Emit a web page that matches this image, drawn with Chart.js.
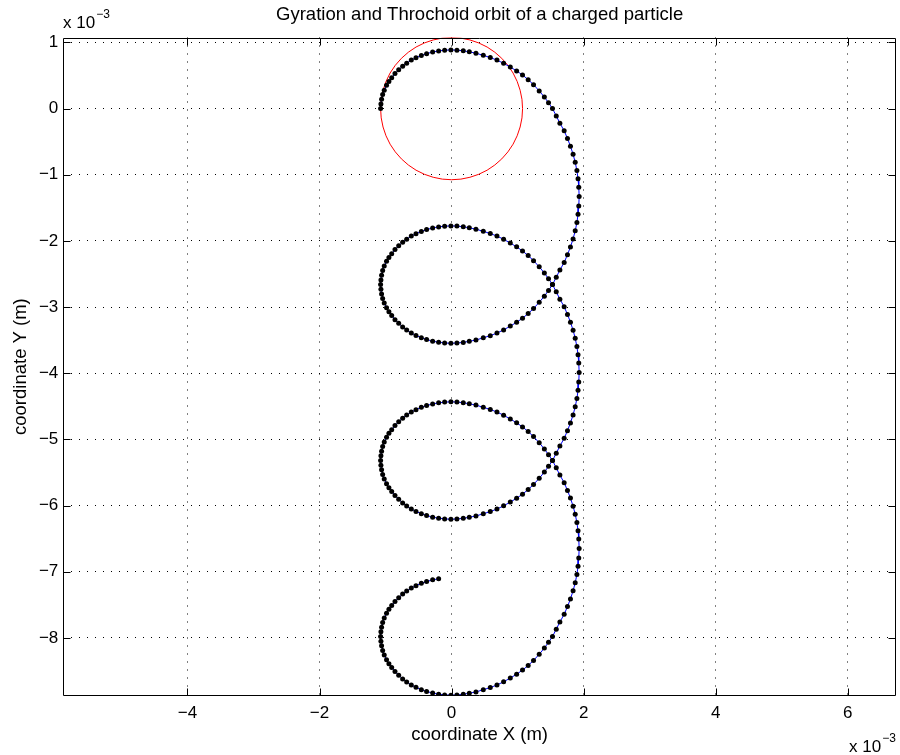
<!DOCTYPE html>
<html>
<head>
<meta charset="utf-8">
<script src="https://cdn.jsdelivr.net/npm/chart.js@4.4.1/dist/chart.umd.min.js"></script>
<style>
  html, body { margin: 0; padding: 0; background: #fff; }
  canvas { display: block; }
</style>
</head>
<body>
<canvas id="orbit" width="900" height="755"></canvas>
<script>
// orbit, units of 1e-3 m, split per turn
const turn1X = [-1.075, -1.070, -1.060, -1.044, -1.020, -0.985, -0.949, -0.907, -0.857, -0.801, -0.741, -0.680, -0.610, -0.539, -0.458, -0.378, -0.287, -0.196, -0.105, -0.010, 0.081, 0.177, 0.268, 0.369, 0.480, 0.586, 0.687, 0.788, 0.889, 0.985, 1.074, 1.160, 1.241, 1.327, 1.405, 1.468, 1.528, 1.585, 1.640, 1.705, 1.755, 1.800, 1.840, 1.872, 1.898, 1.915, 1.926, 1.932,
  1.926, 1.915, 1.898, 1.872, 1.840, 1.800, 1.755, 1.705, 1.640, 1.585, 1.528, 1.468, 1.405, 1.327, 1.241, 1.160, 1.074, 0.985, 0.889, 0.788, 0.687, 0.586, 0.480, 0.369, 0.268, 0.177, 0.081, -0.010, -0.105, -0.196, -0.287, -0.378, -0.458, -0.539, -0.610, -0.680, -0.741, -0.801, -0.857, -0.907, -0.949, -0.985, -1.020, -1.044, -1.060, -1.070, -1.075];
const turn1Y = [0.000, 0.071, 0.141, 0.212, 0.279, 0.352, 0.411, 0.467, 0.530, 0.586, 0.641, 0.687, 0.733, 0.769, 0.804, 0.831, 0.856, 0.872, 0.883, 0.887, 0.884, 0.874, 0.858, 0.838, 0.805, 0.772, 0.733, 0.685, 0.628, 0.570, 0.508, 0.438, 0.362, 0.268, 0.175, 0.088, 0.000, -0.110, -0.220, -0.335, -0.452, -0.568, -0.690, -0.812, -0.937, -1.062, -1.187, -1.330,
  -1.473, -1.598, -1.723, -1.848, -1.970, -2.092, -2.208, -2.325, -2.440, -2.550, -2.660, -2.748, -2.835, -2.928, -3.022, -3.098, -3.168, -3.230, -3.288, -3.345, -3.393, -3.432, -3.465, -3.498, -3.518, -3.534, -3.544, -3.547, -3.543, -3.532, -3.516, -3.491, -3.464, -3.429, -3.393, -3.347, -3.301, -3.246, -3.190, -3.127, -3.071, -3.012, -2.939, -2.872, -2.801, -2.731, -2.660];

const turn2X = [-1.070, -1.060, -1.044, -1.020, -0.985, -0.949, -0.907, -0.857, -0.801, -0.741, -0.680, -0.610, -0.539, -0.458, -0.378, -0.287, -0.196, -0.105, -0.010, 0.081, 0.177, 0.268, 0.369, 0.480, 0.586, 0.687, 0.788, 0.889, 0.985, 1.074, 1.160, 1.241, 1.327, 1.405, 1.468, 1.528, 1.585, 1.640, 1.705, 1.755, 1.800, 1.840, 1.872, 1.898, 1.915, 1.926, 1.932,
  1.926, 1.915, 1.898, 1.872, 1.840, 1.800, 1.755, 1.705, 1.640, 1.585, 1.528, 1.468, 1.405, 1.327, 1.241, 1.160, 1.074, 0.985, 0.889, 0.788, 0.687, 0.586, 0.480, 0.369, 0.268, 0.177, 0.081, -0.010, -0.105, -0.196, -0.287, -0.378, -0.458, -0.539, -0.610, -0.680, -0.741, -0.801, -0.857, -0.907, -0.949, -0.985, -1.020, -1.044, -1.060, -1.070, -1.075];
const turn2Y = [-2.589, -2.519, -2.448, -2.381, -2.308, -2.249, -2.193, -2.130, -2.074, -2.019, -1.973, -1.927, -1.891, -1.856, -1.829, -1.804, -1.788, -1.777, -1.773, -1.776, -1.786, -1.802, -1.822, -1.855, -1.888, -1.927, -1.975, -2.032, -2.090, -2.152, -2.222, -2.298, -2.392, -2.485, -2.572, -2.660, -2.770, -2.880, -2.995, -3.112, -3.228, -3.350, -3.472, -3.597, -3.722, -3.847, -3.990,
  -4.133, -4.258, -4.383, -4.508, -4.630, -4.752, -4.868, -4.985, -5.100, -5.210, -5.320, -5.408, -5.495, -5.588, -5.682, -5.758, -5.828, -5.890, -5.948, -6.005, -6.053, -6.092, -6.125, -6.158, -6.178, -6.194, -6.204, -6.207, -6.203, -6.192, -6.176, -6.151, -6.124, -6.089, -6.053, -6.007, -5.961, -5.906, -5.850, -5.787, -5.731, -5.672, -5.599, -5.532, -5.461, -5.391, -5.320];

const turn3X = [-1.070, -1.060, -1.044, -1.020, -0.985, -0.949, -0.907, -0.857, -0.801, -0.741, -0.680, -0.610, -0.539, -0.458, -0.378, -0.287, -0.196, -0.105, -0.010, 0.081, 0.177, 0.268, 0.369, 0.480, 0.586, 0.687, 0.788, 0.889, 0.985, 1.074, 1.160, 1.241, 1.327, 1.405, 1.468, 1.528, 1.585, 1.640, 1.705, 1.755, 1.800, 1.840, 1.872, 1.898, 1.915, 1.926, 1.932,
  1.926, 1.915, 1.898, 1.872, 1.840, 1.800, 1.755, 1.705, 1.640, 1.585, 1.528, 1.468, 1.405, 1.327, 1.241, 1.160, 1.074, 0.985, 0.889, 0.788, 0.687, 0.586, 0.480, 0.369, 0.268, 0.177, 0.081, -0.010, -0.105, -0.196, -0.287, -0.378, -0.458, -0.539, -0.610, -0.680, -0.741, -0.801, -0.857, -0.907, -0.949, -0.985, -1.020, -1.044, -1.060, -1.070, -1.075];
const turn3Y = [-5.249, -5.179, -5.108, -5.041, -4.968, -4.909, -4.853, -4.790, -4.734, -4.679, -4.633, -4.587, -4.551, -4.516, -4.489, -4.464, -4.448, -4.437, -4.433, -4.436, -4.446, -4.462, -4.482, -4.515, -4.548, -4.587, -4.635, -4.692, -4.750, -4.812, -4.882, -4.958, -5.052, -5.145, -5.232, -5.320, -5.430, -5.540, -5.655, -5.772, -5.888, -6.010, -6.132, -6.257, -6.382, -6.507, -6.650,
  -6.793, -6.918, -7.043, -7.168, -7.290, -7.412, -7.528, -7.645, -7.760, -7.870, -7.980, -8.068, -8.155, -8.248, -8.342, -8.418, -8.488, -8.550, -8.608, -8.665, -8.713, -8.752, -8.785, -8.818, -8.838, -8.854, -8.864, -8.867, -8.863, -8.852, -8.836, -8.811, -8.784, -8.749, -8.713, -8.667, -8.621, -8.566, -8.510, -8.447, -8.391, -8.332, -8.259, -8.192, -8.121, -8.051, -7.980];

const tailX = [-1.070, -1.060, -1.044, -1.020, -0.985, -0.949, -0.907, -0.857, -0.801, -0.741, -0.680, -0.610, -0.539, -0.458, -0.378, -0.287, -0.196];
const tailY = [-7.909, -7.839, -7.768, -7.701, -7.628, -7.569, -7.513, -7.450, -7.394, -7.339, -7.293, -7.247, -7.211, -7.176, -7.149, -7.124, -7.108];

// gyration circle (red)
const circleX = [1.075, 1.066, 1.038, 0.993, 0.931, 0.853, 0.760, 0.654, 0.538, 0.411, 0.278, 0.140, 0.000, -0.140, -0.278, -0.411, -0.538, -0.654, -0.760, -0.853, -0.931, -0.993, -1.038, -1.066, -1.075,
  -1.066, -1.038, -0.993, -0.931, -0.853, -0.760, -0.654, -0.538, -0.411, -0.278, -0.140, 0.000, 0.140, 0.278, 0.411, 0.538, 0.654, 0.760, 0.853, 0.931, 0.993, 1.038, 1.066, 1.075];
const circleY = [0.000, 0.140, 0.278, 0.411, 0.538, 0.654, 0.760, 0.853, 0.931, 0.993, 1.038, 1.066, 1.075, 1.066, 1.038, 0.993, 0.931, 0.853, 0.760, 0.654, 0.538, 0.411, 0.278, 0.140, 0.000,
  -0.140, -0.278, -0.411, -0.538, -0.654, -0.760, -0.853, -0.931, -0.993, -1.038, -1.066, -1.075, -1.066, -1.038, -0.993, -0.931, -0.853, -0.760, -0.654, -0.538, -0.411, -0.278, -0.140, 0.000];

const xTicks = [-4, -2, 0, 2, 4, 6];
const yTicks = [-8, -7, -6, -5, -4, -3, -2, -1, 0, 1];
const xRange = [-5.88, 6.73];
const yRange = [-8.875, 1.075];

const titleText = 'Gyration and Throchoid orbit of a charged particle';
const xLabel = 'coordinate X (m)';
const yLabel = 'coordinate Y (m)';

const FONT = '"Liberation Sans", Arial, Helvetica, sans-serif';
const FS = 17;      // tick labels
const LFS = 18.5;   // title and axis labels

function toPoints(xs, ys) {
  return xs.map((x, i) => ({ x: x, y: ys[i] }));
}

function tickText(v) {
  return v < 0 ? '\u2212' + Math.abs(v) : String(v);
}

const orbitPoints = []
  .concat(toPoints(turn1X, turn1Y))
  .concat(toPoints(turn2X, turn2Y))
  .concat(toPoints(turn3X, turn3Y))
  .concat(toPoints(tailX, tailY));

// box, inward ticks and the x10^-3 multipliers, matlab style
const matlabFrame = {
  id: 'matlabFrame',
  afterDraw(chart) {
    const { ctx, chartArea: a, scales } = chart;
    const L = Math.round(a.left) + 0.5, R = Math.round(a.right) - 0.5;
    const T = Math.round(a.top) + 0.5, B = Math.round(a.bottom) - 0.5;
    ctx.save();
    ctx.strokeStyle = '#000';
    ctx.lineWidth = 1;
    ctx.setLineDash([]);
    ctx.beginPath();
    ctx.rect(L, T, R - L, B - T);
    xTicks.forEach((v) => {
      const px = Math.round(scales.x.getPixelForValue(v)) + 0.5;
      ctx.moveTo(px, B); ctx.lineTo(px, B - 7);
      ctx.moveTo(px, T); ctx.lineTo(px, T + 7);
    });
    yTicks.forEach((v) => {
      const py = Math.round(scales.y.getPixelForValue(v)) + 0.5;
      ctx.moveTo(L, py); ctx.lineTo(L + 7, py);
      ctx.moveTo(R, py); ctx.lineTo(R - 7, py);
    });
    ctx.stroke();

    ctx.fillStyle = '#000';
    ctx.textBaseline = 'alphabetic';
    ctx.textAlign = 'left';
    ctx.font = FS + 'px ' + FONT;
    ctx.fillText('x 10', 63, 28);
    const w1 = ctx.measureText('x 10').width;
    ctx.fillText('x 10', 849, 752);
    ctx.font = '12px ' + FONT;
    ctx.fillText('\u22123', 63 + w1 + 1, 18);
    ctx.fillText('\u22123', 849 + w1 + 1, 742);
    ctx.restore();
  }
};

Chart.defaults.font.family = FONT;
Chart.defaults.color = '#000';

new Chart(document.getElementById('orbit'), {
  type: 'scatter',
  data: {
    datasets: [
      {
        label: 'trochoid',
        data: orbitPoints,
        showLine: true,
        borderColor: '#0000ff',
        borderWidth: 1,
        tension: 0,
        pointRadius: 2.5,
        pointBackgroundColor: '#000',
        pointBorderColor: '#000',
        pointBorderWidth: 0,
        order: 0,
      },
      {
        label: 'gyration',
        data: toPoints(circleX, circleY),
        showLine: true,
        borderColor: '#ff0000',
        borderWidth: 1,
        tension: 0,
        pointRadius: 0,
        order: 1,
      },
    ],
  },
  options: {
    responsive: false,
    animation: false,
    events: [],
    layout: { padding: { left: 0, right: 2, top: 0, bottom: 0 } },
    plugins: {
      legend: { display: false },
      tooltip: { enabled: false },
      title: {
        display: true,
        text: titleText,
        fullSize: false,
        color: '#000',
        font: { family: FONT, size: LFS, weight: 'normal' },
        padding: { top: 3.4, bottom: 11.9 },
      },
    },
    scales: {
      x: {
        type: 'linear',
        position: 'bottom',
        min: xRange[0],
        max: xRange[1],
        afterBuildTicks: (s) => { s.ticks = xTicks.map((v) => ({ value: v })); },
        afterFit: (s) => {
          s.height = 59.3;
          s.paddingLeft = 0;
          s.paddingRight = 0;
        },
        ticks: {
          font: { size: FS },
          color: '#000',
          padding: 7,
          maxRotation: 0,
          autoSkip: false,
          callback: (v) => tickText(v),
        },
        grid: { color: '#000', lineWidth: 1, drawTicks: false },
        border: { display: false, dash: [1, 7] },
        title: {
          display: true,
          text: xLabel,
          color: '#000',
          font: { size: LFS },
          padding: { top: 0, bottom: 9.4 },
        },
      },
      y: {
        type: 'linear',
        position: 'left',
        min: yRange[0],
        max: yRange[1],
        afterBuildTicks: (s) => { s.ticks = yTicks.map((v) => ({ value: v })); },
        afterFit: (s) => {
          s.width = 63.3;
          s.paddingTop = 0;
          s.paddingBottom = 0;
        },
        ticks: {
          font: { size: FS },
          color: '#000',
          padding: 5,
          autoSkip: false,
          callback: (v) => tickText(v),
        },
        grid: { color: '#000', lineWidth: 1, drawTicks: false },
        border: { display: false, dash: [1, 7] },
        title: {
          display: true,
          text: yLabel,
          color: '#000',
          font: { size: LFS },
          padding: { top: 9.9, bottom: 0 },
        },
      },
    },
  },
  plugins: [matlabFrame],
});
</script>
</body>
</html>
